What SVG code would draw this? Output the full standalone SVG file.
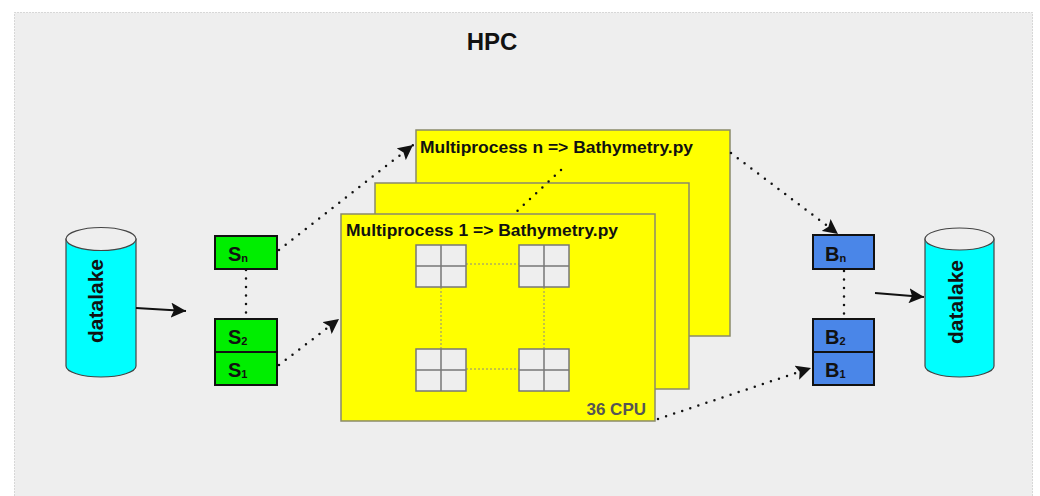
<svg xmlns="http://www.w3.org/2000/svg" width="1040" height="496" viewBox="0 0 1040 496">
<defs>
<style>
.frame{fill:#eeeeee;stroke:#b8b8b8;stroke-width:1;stroke-dasharray:1 2}
.mp{fill:#ffff00;stroke:#8a8a6a;stroke-width:1.5}
.cell{fill:#eeeeee;stroke:#777;stroke-width:1.5}
.s{fill:#00ee00;stroke:#111;stroke-width:2}
.b{fill:#4a86e8;stroke:#111;stroke-width:2}
.cyl{fill:#00ffff;stroke:#444;stroke-width:1.2}
.cyltop{fill:#eeeeee;stroke:#444;stroke-width:1.2}
.dot{fill:none;stroke:#111;stroke-width:2.5;stroke-linecap:round;stroke-dasharray:0 8.5}
.fine{fill:none;stroke:#888;stroke-width:1;stroke-dasharray:2 2}
.solid{fill:none;stroke:#111;stroke-width:2}
.t{font-family:"Liberation Sans",Arial,sans-serif;font-weight:bold;fill:#111}
.lbl{font-family:"Liberation Sans",Arial,sans-serif;font-weight:bold;font-size:20px;fill:#111}
.sub{font-size:11px}
</style>
<marker id="ah" viewBox="0 0 10 10" refX="10" refY="5" markerWidth="15" markerHeight="15" markerUnits="userSpaceOnUse" orient="auto">
<path d="M0,0 L10,5 L0,10 L2,5 Z" fill="#111"/>
</marker>
</defs>
<rect class="frame" x="14.5" y="12.5" width="1018" height="500"/>
<text class="t" x="492" y="50" font-size="24" text-anchor="middle">HPC</text>

<g id="mp-n">
<rect class="mp" x="416" y="130" width="314" height="206"/>
<text class="t" x="420" y="153" font-size="17" textLength="273" lengthAdjust="spacingAndGlyphs">Multiprocess n =&gt; Bathymetry.py</text>
</g>
<g id="mp-mid">
<rect class="mp" x="375" y="183" width="314" height="206"/>
</g>
<g id="mp-1">
<rect class="mp" x="341" y="214" width="314" height="207"/>
<text class="t" x="346" y="236" font-size="17" textLength="272" lengthAdjust="spacingAndGlyphs">Multiprocess 1 =&gt; Bathymetry.py</text>
<text class="t" x="646" y="415" font-size="17" text-anchor="end" style="fill:#555">36 CPU</text>
<path class="fine" d="M466,264 H519 M466,369 H519 M441,287 V349 M544,287 V349"/>
<g id="cpu1"><rect class="cell" x="416" y="245" width="50" height="42"/><path class="cell" d="M441,245 V287 M416,266 H466"/></g>
<g id="cpu2"><rect class="cell" x="519" y="245" width="50" height="42"/><path class="cell" d="M544,245 V287 M519,266 H569"/></g>
<g id="cpu3"><rect class="cell" x="416" y="349" width="50" height="42"/><path class="cell" d="M441,349 V391 M416,370 H466"/></g>
<g id="cpu4"><rect class="cell" x="519" y="349" width="50" height="42"/><path class="cell" d="M544,349 V391 M519,370 H569"/></g>
</g>

<g id="datalake-in">
<path class="cyl" d="M66,239 V366 A35,11 0 0 0 136,366 V239 Z"/>
<ellipse class="cyltop" cx="101" cy="239" rx="35" ry="11.5"/>
<text class="t" font-size="21" transform="translate(103,301) rotate(-90)" text-anchor="middle">datalake</text>
</g>
<g id="datalake-out">
<path class="cyl" d="M925,239 V366 A34.5,11 0 0 0 994,366 V239 Z"/>
<ellipse class="cyltop" cx="959.5" cy="239" rx="34.5" ry="11"/>
<text class="t" font-size="21" transform="translate(963,302) rotate(-90)" text-anchor="middle">datalake</text>
</g>

<g id="s-n"><rect class="s" x="215" y="236" width="62" height="33"/><text class="lbl" x="228" y="261">S<tspan class="sub" dy="1">n</tspan></text></g>
<g id="s-2"><rect class="s" x="215" y="319" width="62" height="33"/><text class="lbl" x="228" y="344">S<tspan class="sub" dy="1">2</tspan></text></g>
<g id="s-1"><rect class="s" x="215" y="352" width="62" height="33"/><text class="lbl" x="228" y="377">S<tspan class="sub" dy="1">1</tspan></text></g>

<g id="b-n"><rect class="b" x="813" y="235" width="61" height="34"/><text class="lbl" x="825" y="261">B<tspan class="sub" dy="1">n</tspan></text></g>
<g id="b-2"><rect class="b" x="813" y="319" width="61" height="33"/><text class="lbl" x="825" y="344">B<tspan class="sub" dy="1">2</tspan></text></g>
<g id="b-1"><rect class="b" x="813" y="352" width="61" height="33"/><text class="lbl" x="825" y="377">B<tspan class="sub" dy="1">1</tspan></text></g>

<g id="connectors">
<path class="dot" d="M561,170 L514,214"/>
<path class="dot" d="M246,270 V318"/>
<path class="dot" d="M844,271 V318"/>
<path class="dot" d="M279,250 L413,145" marker-end="url(#ah)"/>
<path class="dot" d="M279,365 L339,319" marker-end="url(#ah)"/>
<path class="dot" d="M731,153 L838,234" marker-end="url(#ah)"/>
<path class="dot" d="M658,419 L811,368" marker-end="url(#ah)"/>
<path class="solid" d="M136,308 L186,311" marker-end="url(#ah)"/>
<path class="solid" d="M875,293 L924,297" marker-end="url(#ah)"/>
</g>
</svg>
